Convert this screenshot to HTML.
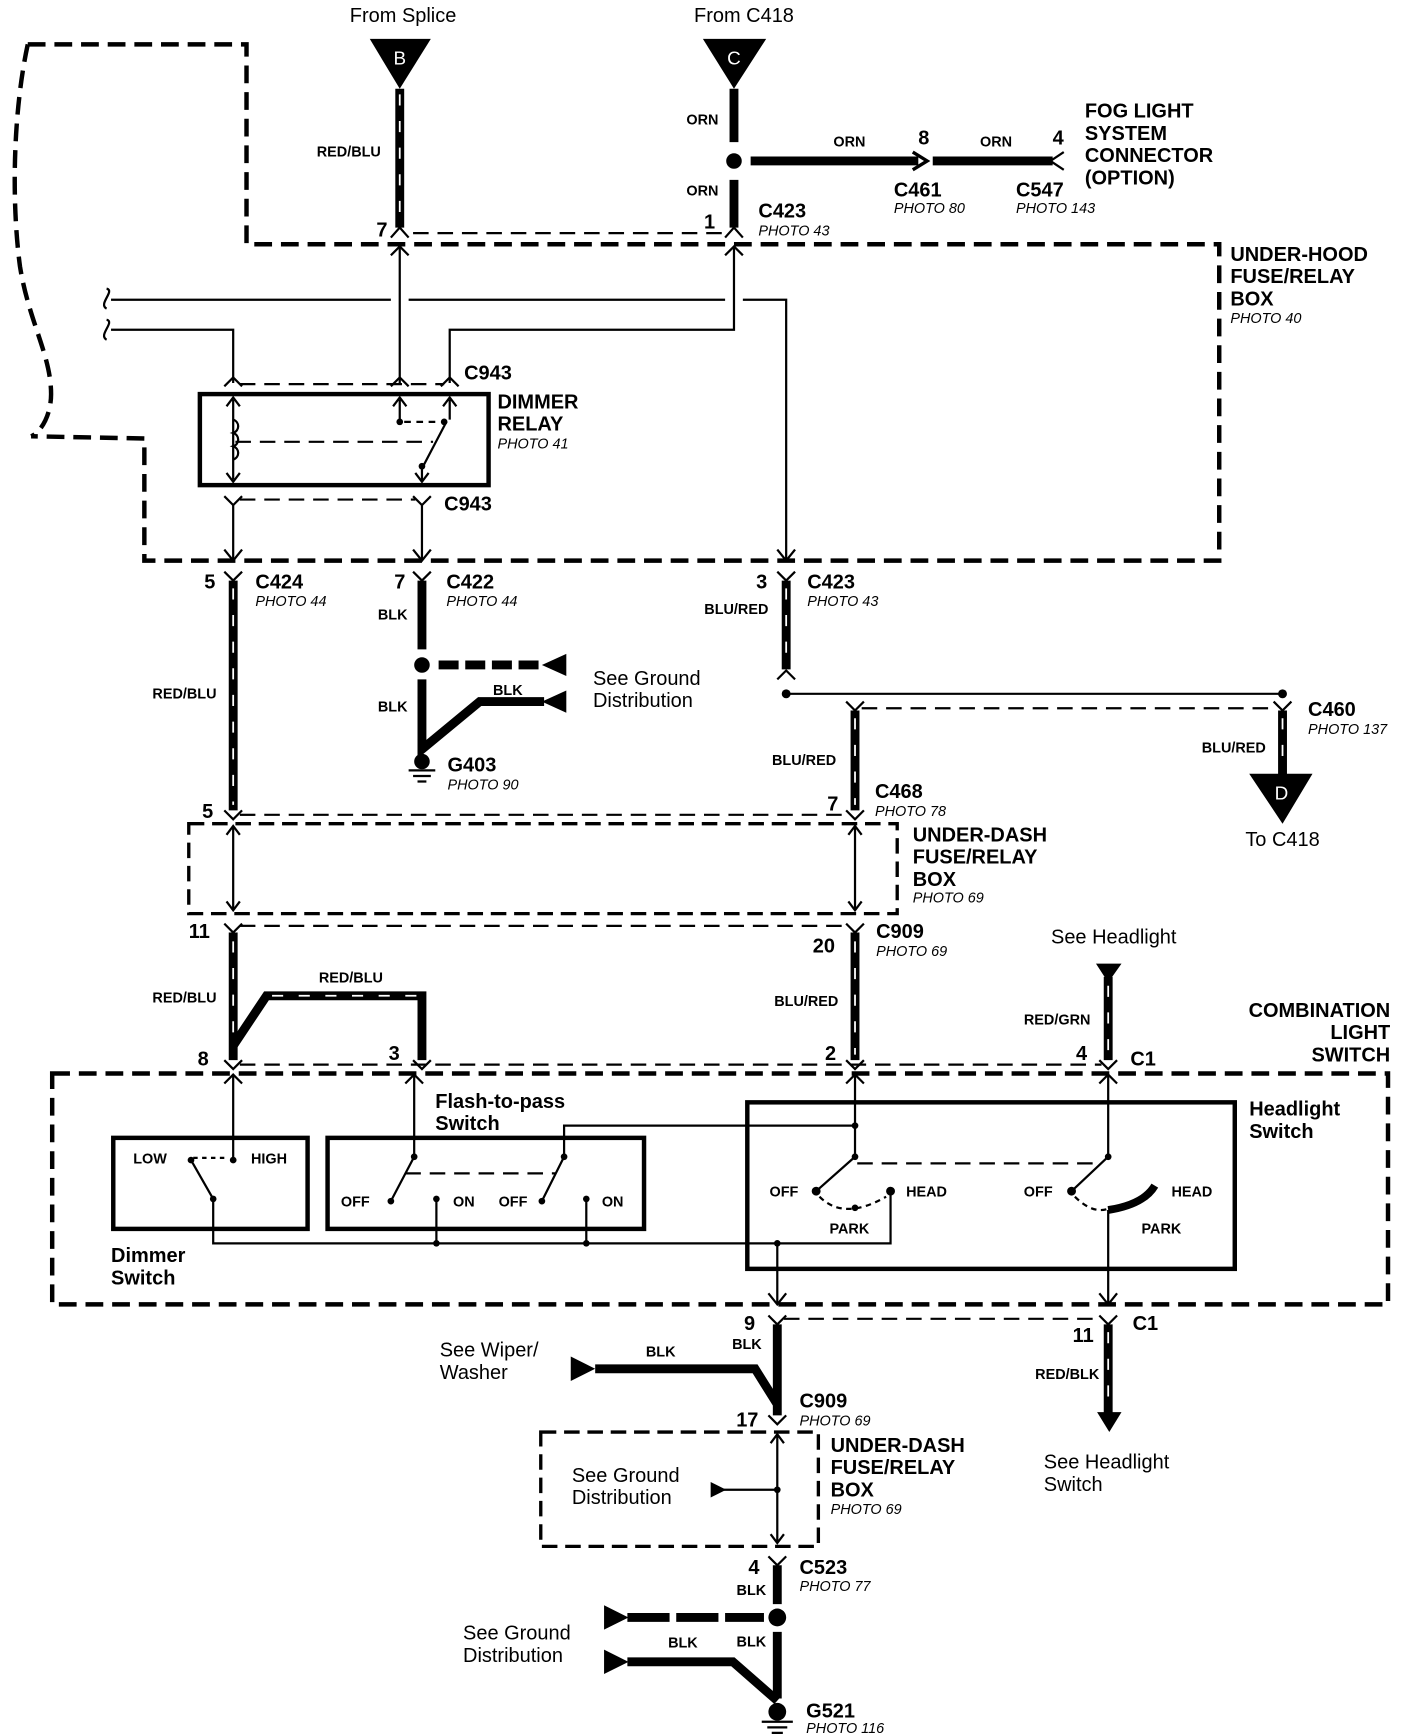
<!DOCTYPE html>
<html><head><meta charset="utf-8"><style>
html,body{margin:0;padding:0;background:#fff}
svg{display:block}
text{font-family:"Liberation Sans",Arial,sans-serif;fill:#000}
.b{font-weight:bold;font-size:18px}
.s{font-weight:bold;font-size:13px}
.p{font-style:italic;font-size:13px}
.n{font-size:18px}
.t{stroke:#000;stroke-width:2;fill:none}
.k{stroke:#000;stroke-width:8;fill:none}
.w{stroke:#fff;stroke-width:1.6;fill:none;stroke-dasharray:10 14}
.d{stroke:#000;stroke-width:4;fill:none;stroke-dasharray:16 8}
.dt{stroke:#000;stroke-width:2;fill:none;stroke-dasharray:14 8}
</style></head><body>
<svg width="1408" height="1734" viewBox="0 0 1268 1562" preserveAspectRatio="none" xmlns="http://www.w3.org/2000/svg">
<!-- Under-hood boundary -->
<path class="d" d="M25,40 L222,40 L222,220 L1098,220 L1098,505 L130,505 L130,395 L28,393"/>
<path class="d" d="M25,40 C12,100 10,180 18,240 C26,290 46,320 46,355 C46,375 36,390 28,393"/>
<!-- From Splice B -->
<text class="n" x="363" y="20" text-anchor="middle">From Splice</text>
<polygon points="333,35 388,35 360,80"/>
<text x="360" y="58" text-anchor="middle" style="font-size:17px;fill:#fff">B</text>
<line class="k" x1="360" y1="80" x2="360" y2="205"/><line class="w" x1="360" y1="85" x2="360" y2="200"/>
<text class="s" x="343" y="141" text-anchor="end">RED/BLU</text>
<!-- From C418 C -->
<text class="n" x="670" y="20" text-anchor="middle">From C418</text>
<polygon points="633,35 690,35 661,80"/>
<text x="661" y="58" text-anchor="middle" style="font-size:17px;fill:#fff">C</text>
<line class="k" x1="661" y1="80" x2="661" y2="205"/>
<line x1="661" y1="128" x2="661" y2="162" stroke="#fff" stroke-width="10"/>
<circle cx="661" cy="145" r="7"/>
<text class="s" x="647" y="112" text-anchor="end">ORN</text>
<text class="s" x="647" y="176" text-anchor="end">ORN</text>
<line class="k" x1="676" y1="145" x2="827" y2="145"/>
<path d="M822,137 L835,145 L822,153" stroke="#000" stroke-width="3" fill="none"/>
<line class="k" x1="840" y1="145" x2="948" y2="145"/>
<path d="M958,137 L946,145 L958,153" stroke="#000" stroke-width="2" fill="none"/>
<text class="s" x="765" y="132" text-anchor="middle">ORN</text>
<text class="s" x="897" y="132" text-anchor="middle">ORN</text>
<text class="b" x="832" y="130" text-anchor="middle">8</text>
<text class="b" x="953" y="130" text-anchor="middle">4</text>
<text class="b" x="805" y="177">C461</text><text class="p" x="805" y="192">PHOTO 80</text>
<text class="b" x="915" y="177">C547</text><text class="p" x="915" y="192">PHOTO 143</text>
<text class="b" x="977" y="106">FOG LIGHT</text><text class="b" x="977" y="126">SYSTEM</text>
<text class="b" x="977" y="146">CONNECTOR</text><text class="b" x="977" y="166">(OPTION)</text>
<!-- C423 top -->
<text class="b" x="339" y="213">7</text><text class="b" x="634" y="206">1</text>
<path class="t" d="M352,214 L360,205 L368,214 M653,214 L661,205 L669,214"/>
<line class="dt" x1="372" y1="210" x2="650" y2="210"/>
<text class="b" x="683" y="196">C423</text><text class="p" x="683" y="212">PHOTO 43</text>
<text class="b" x="1108" y="235">UNDER-HOOD</text><text class="b" x="1108" y="255">FUSE/RELAY</text>
<text class="b" x="1108" y="275">BOX</text><text class="p" x="1108" y="291">PHOTO 40</text>
<!-- thin wires -->
<path class="t" d="M352,230 L360,222 L368,230 M653,230 L661,222 L669,230"/>
<line class="t" x1="360" y1="222" x2="360" y2="345"/>
<path class="t" d="M661,222 L661,297 L405,297 L405,345"/>
<path class="t" d="M100,270 L352,270 M368,270 L653,270 M669,270 L708,270 L708,505"/>
<path class="t" d="M100,297 L210,297 L210,345"/>
<path class="t" d="M96,260 C104,262 88,274 96,278 M96,288 C104,290 88,302 96,306"/>
<!-- C943 top -->
<path class="t" d="M202,348 L210,340 L218,348 M352,348 L360,340 L368,348 M397,348 L405,340 L413,348"/>
<line class="dt" x1="216" y1="346" x2="400" y2="346"/>
<text class="b" x="418" y="342">C943</text>
<rect x="180" y="355" width="260" height="82" fill="none" stroke="#000" stroke-width="4"/>
<text class="b" x="448" y="368">DIMMER</text><text class="b" x="448" y="388">RELAY</text>
<text class="p" x="448" y="404">PHOTO 41</text>
<!-- relay internals -->
<path class="t" d="M210,360 L210,432 M204,366 L210,358 L216,366 M204,426 L210,434 L216,426"/>
<path d="M210,378 c6,2 6,10 0,12 c6,2 6,10 0,12 c6,2 6,10 0,12" stroke="#000" stroke-width="2" fill="none"/>
<path class="t" d="M360,360 L360,378 M354,366 L360,358 L366,366 M405,360 L405,378 M399,366 L405,358 L411,366"/>
<circle cx="360" cy="380" r="3"/><circle cx="400" cy="380" r="3"/>
<line class="dt" x1="364" y1="380" x2="396" y2="380" style="stroke-dasharray:6 5"/>
<line class="dt" x1="212" y1="398" x2="390" y2="398"/>
<path class="t" d="M402,380 L380,422 L380,434 M374,426 L380,434 L386,426"/><circle cx="380" cy="420" r="3"/>
<!-- C943 bottom -->
<path class="t" d="M202,447 L210,455 L218,447 M372,447 L380,455 L388,447"/>
<line class="dt" x1="216" y1="450" x2="374" y2="450"/>
<text class="b" x="400" y="460">C943</text>
<line class="t" x1="210" y1="455" x2="210" y2="505"/><line class="t" x1="380" y1="455" x2="380" y2="505"/>
<path class="t" d="M202,495 L210,505 L218,495 M372,495 L380,505 L388,495 M700,495 L708,505 L716,495"/>
<!-- connectors row 520 -->
<path class="t" d="M202,515 L210,523 L218,515 M372,515 L380,523 L388,515 M700,515 L708,523 L716,515"/>
<text class="b" x="184" y="530">5</text><text class="b" x="355" y="530">7</text><text class="b" x="681" y="530">3</text>
<text class="b" x="230" y="530">C424</text><text class="p" x="230" y="546">PHOTO 44</text>
<text class="b" x="402" y="530">C422</text><text class="p" x="402" y="546">PHOTO 44</text>
<text class="b" x="727" y="530">C423</text><text class="p" x="727" y="546">PHOTO 43</text>
<line class="k" x1="210" y1="523" x2="210" y2="730"/><line class="w" x1="210" y1="530" x2="210" y2="725"/>
<text class="s" x="195" y="629" text-anchor="end">RED/BLU</text>
<!-- C422 BLK -->
<line class="k" x1="380" y1="523" x2="380" y2="585"/>
<text class="s" x="367" y="558" text-anchor="end">BLK</text>
<circle cx="380" cy="599" r="7"/>
<line class="k" x1="395" y1="599" x2="488" y2="599" style="stroke-dasharray:18 6"/>
<polygon points="488,599 510,589 510,609"/>
<text class="n" x="534" y="617">See Ground</text><text class="n" x="534" y="637">Distribution</text>
<path class="k" d="M380,612 L380,675 L432,632 L490,632"/>
<polygon points="488,632 510,622 510,642"/>
<text class="s" x="444" y="626">BLK</text>
<text class="s" x="367" y="641" text-anchor="end">BLK</text>
<circle cx="380" cy="686" r="7"/>
<path class="t" d="M368,694 L392,694 M372,699 L388,699 M376,704 L384,704"/>
<text class="b" x="403" y="695">G403</text><text class="p" x="403" y="711">PHOTO 90</text>
<!-- BLU/RED C423 -->
<line class="k" x1="708" y1="523" x2="708" y2="603"/><line class="w" x1="708" y1="530" x2="708" y2="598"/>
<text class="s" x="692" y="553" text-anchor="end">BLU/RED</text>
<path class="t" d="M700,612 L708,604 L716,612"/>
<line class="t" x1="708" y1="625" x2="1155" y2="625"/>
<circle cx="708" cy="625" r="4"/><circle cx="1155" cy="625" r="4"/>
<line class="dt" x1="776" y1="638" x2="1150" y2="638"/>
<path class="t" d="M762,632 L770,640 L778,632 M1147,632 L1155,640 L1163,632"/>
<text class="b" x="1178" y="645">C460</text><text class="p" x="1178" y="661">PHOTO 137</text>
<line class="k" x1="1155" y1="640" x2="1155" y2="700"/><line class="w" x1="1155" y1="647" x2="1155" y2="695"/>
<text class="s" x="1140" y="678" text-anchor="end">BLU/RED</text>
<polygon points="1125,697 1182,697 1155,742"/>
<text x="1154" y="720" text-anchor="middle" style="font-size:17px;fill:#fff">D</text>
<text class="n" x="1155" y="762" text-anchor="middle">To C418</text>
<line class="k" x1="770" y1="640" x2="770" y2="730"/><line class="w" x1="770" y1="647" x2="770" y2="725"/>
<text class="s" x="753" y="689" text-anchor="end">BLU/RED</text>
<text class="b" x="788" y="719">C468</text><text class="p" x="788" y="735">PHOTO 78</text>
<text class="b" x="182" y="737">5</text><text class="b" x="745" y="730">7</text>
<path class="t" d="M202,730 L210,738 L218,730 M762,730 L770,738 L778,730"/>
<line class="dt" x1="216" y1="734" x2="764" y2="734"/>
<!-- Under-dash box 1 -->
<rect x="170" y="742" width="638" height="81" fill="none" stroke="#000" stroke-width="3" stroke-dasharray="14 7"/>
<path class="t" d="M210,744 L210,820 M204,752 L210,744 L216,752 M204,812 L210,820 L216,812 M770,744 L770,820 M764,752 L770,744 L776,752 M764,812 L770,820 L776,812"/>
<text class="b" x="822" y="758">UNDER-DASH</text><text class="b" x="822" y="778">FUSE/RELAY</text>
<text class="b" x="822" y="798">BOX</text><text class="p" x="822" y="813">PHOTO 69</text>
<!-- row 835 -->
<path class="t" d="M202,832 L210,840 L218,832 M762,832 L770,840 L778,832"/>
<line class="dt" x1="216" y1="834" x2="764" y2="834"/>
<text class="b" x="170" y="845">11</text><text class="b" x="732" y="858">20</text>
<text class="b" x="789" y="845">C909</text><text class="p" x="789" y="861">PHOTO 69</text>
<line class="k" x1="210" y1="840" x2="210" y2="955"/><line class="w" x1="210" y1="848" x2="210" y2="940"/>
<path class="k" d="M210,942 L240,897 L380,897 L380,955"/>
<path class="w" d="M245,897 L378,897"/>
<text class="s" x="195" y="903" text-anchor="end">RED/BLU</text>
<text class="s" x="316" y="885" text-anchor="middle">RED/BLU</text>
<line class="k" x1="770" y1="840" x2="770" y2="955"/><line class="w" x1="770" y1="848" x2="770" y2="950"/>
<text class="s" x="755" y="906" text-anchor="end">BLU/RED</text>
<text class="n" x="1003" y="850" text-anchor="middle">See Headlight</text>
<polygon points="987,868 1010,868 998,885"/>
<line class="k" x1="998" y1="880" x2="998" y2="955"/><line class="w" x1="998" y1="888" x2="998" y2="950"/>
<text class="s" x="982" y="923" text-anchor="end">RED/GRN</text>
<text class="b" x="1252" y="916" text-anchor="end">COMBINATION</text>
<text class="b" x="1252" y="936" text-anchor="end">LIGHT</text>
<text class="b" x="1252" y="956" text-anchor="end">SWITCH</text>
<text class="b" x="178" y="960">8</text><text class="b" x="350" y="955">3</text><text class="b" x="743" y="955">2</text><text class="b" x="969" y="955">4</text>
<text class="b" x="1018" y="960">C1</text>
<path class="t" d="M202,955 L210,963 L218,955 M372,955 L380,963 L388,955 M762,955 L770,963 L778,955 M990,955 L998,963 L1006,955"/>
<line class="dt" x1="216" y1="959" x2="992" y2="959"/>
<!-- Combination box -->
<rect x="47" y="967" width="1203" height="208" fill="none" stroke="#000" stroke-width="4" stroke-dasharray="16 8"/>
<path class="t" d="M202,976 L210,968 L218,976 M365,976 L373,968 L381,976 M762,976 L770,968 L778,976 M990,976 L998,968 L1006,976"/>
<text class="b" x="392" y="998">Flash-to-pass</text><text class="b" x="392" y="1018">Switch</text>
<text class="b" x="1125" y="1005">Headlight</text><text class="b" x="1125" y="1025">Switch</text>
<text class="b" x="100" y="1137">Dimmer</text><text class="b" x="100" y="1157">Switch</text>
<rect x="102" y="1025" width="175" height="82" fill="none" stroke="#000" stroke-width="4"/>
<rect x="295" y="1025" width="285" height="82" fill="none" stroke="#000" stroke-width="4"/>
<rect x="673" y="993" width="439" height="150" fill="none" stroke="#000" stroke-width="4"/>
<!-- dimmer switch -->
<line class="t" x1="210" y1="968" x2="210" y2="1045"/>
<circle cx="210" cy="1045" r="3"/><circle cx="172" cy="1045" r="3"/><circle cx="192" cy="1080" r="3"/>
<path class="t" d="M172,1045 L192,1080 L192,1120 L802,1120 L802,1073"/>
<path d="M174,1043 L206,1043" stroke="#000" stroke-width="2" stroke-dasharray="4 4"/>
<text class="s" x="120" y="1048">LOW</text><text class="s" x="226" y="1048">HIGH</text>
<!-- flash switches -->
<line class="t" x1="373" y1="968" x2="373" y2="1042"/>
<path class="t" d="M373,1042 L352,1082 M393,1080 L393,1120 M528,1080 L528,1120 M508,1042 L508,1014 L770,1014 M508,1042 L488,1082"/>
<circle cx="373" cy="1042" r="3"/><circle cx="352" cy="1082" r="3"/><circle cx="393" cy="1080" r="3"/>
<circle cx="508" cy="1042" r="3"/><circle cx="488" cy="1082" r="3"/><circle cx="528" cy="1080" r="3"/>
<circle cx="393" cy="1120" r="3"/><circle cx="528" cy="1120" r="3"/><circle cx="700" cy="1120" r="3"/>
<line class="dt" x1="365" y1="1057" x2="500" y2="1057"/>
<text class="s" x="307" y="1087">OFF</text><text class="s" x="408" y="1087">ON</text>
<text class="s" x="449" y="1087">OFF</text><text class="s" x="542" y="1087">ON</text>
<!-- headlight switch -->
<line class="t" x1="770" y1="968" x2="770" y2="1042"/>
<circle cx="770" cy="1014" r="3"/><circle cx="770" cy="1042" r="3"/>
<path class="t" d="M770,1042 L735,1073"/><circle cx="735" cy="1073" r="4"/><circle cx="802" cy="1073" r="4"/>
<path d="M738,1078 Q760,1100 798,1078" stroke="#000" stroke-width="2" fill="none" stroke-dasharray="5 4"/>
<circle cx="770" cy="1088" r="3"/>
<line class="dt" x1="772" y1="1048" x2="990" y2="1048"/>
<line class="t" x1="998" y1="968" x2="998" y2="1042"/><circle cx="998" cy="1042" r="3"/>
<path class="t" d="M998,1042 L965,1073"/><circle cx="965" cy="1073" r="4"/>
<path d="M968,1078 Q985,1095 1000,1088" stroke="#000" stroke-width="2" fill="none" stroke-dasharray="5 4"/>
<path d="M998,1090 Q1030,1085 1040,1068" stroke="#000" stroke-width="7" fill="none"/>
<text class="s" x="693" y="1078">OFF</text><text class="s" x="816" y="1078">HEAD</text>
<text class="s" x="922" y="1078">OFF</text><text class="s" x="1055" y="1078">HEAD</text>
<text class="s" x="747" y="1111">PARK</text><text class="s" x="1028" y="1111">PARK</text>
<line class="t" x1="700" y1="1120" x2="700" y2="1175"/><line class="t" x1="998" y1="1090" x2="998" y2="1175"/>
<path class="t" d="M692,1165 L700,1175 L708,1165 M990,1165 L998,1175 L1006,1165"/>
<!-- row 1190 -->
<path class="t" d="M692,1185 L700,1193 L708,1185 M990,1185 L998,1193 L1006,1185"/>
<line class="dt" x1="706" y1="1188" x2="992" y2="1188"/>
<text class="b" x="670" y="1198">9</text><text class="b" x="966" y="1209">11</text><text class="b" x="1020" y="1198">C1</text>
<text class="s" x="686" y="1215" text-anchor="end">BLK</text>
<path class="k" d="M700,1193 L700,1275 M536,1233 L680,1233 L700,1265"/>
<polygon points="514,1222 536,1233 514,1244"/>
<text class="s" x="595" y="1222" text-anchor="middle">BLK</text>
<text class="n" x="396" y="1222">See Wiper/</text><text class="n" x="396" y="1242">Washer</text>
<text class="b" x="720" y="1268">C909</text><text class="p" x="720" y="1284">PHOTO 69</text>
<text class="b" x="663" y="1285">17</text>
<path class="t" d="M692,1275 L700,1283 L708,1275"/>
<line class="k" x1="998" y1="1193" x2="998" y2="1275"/><line class="w" x1="998" y1="1200" x2="998" y2="1270"/>
<polygon points="988,1272 1010,1272 999,1290"/>
<text class="s" x="990" y="1242" text-anchor="end">RED/BLK</text>
<text class="n" x="940" y="1323">See Headlight</text><text class="n" x="940" y="1343">Switch</text>
<!-- under-dash box 2 -->
<rect x="487" y="1290" width="250" height="103" fill="none" stroke="#000" stroke-width="3" stroke-dasharray="14 7"/>
<path class="t" d="M700,1292 L700,1390 M694,1300 L700,1292 L706,1300 M694,1382 L700,1390 L706,1382 M648,1342 L700,1342"/>
<circle cx="700" cy="1342" r="3"/><polygon points="640,1335 654,1342 640,1349"/>
<text class="n" x="515" y="1335">See Ground</text><text class="n" x="515" y="1355">Distribution</text>
<text class="b" x="748" y="1308">UNDER-DASH</text><text class="b" x="748" y="1328">FUSE/RELAY</text>
<text class="b" x="748" y="1348">BOX</text><text class="p" x="748" y="1364">PHOTO 69</text>
<!-- C523 -->
<path class="t" d="M692,1402 L700,1410 L708,1402"/>
<text class="b" x="674" y="1418">4</text>
<text class="b" x="720" y="1418">C523</text><text class="p" x="720" y="1433">PHOTO 77</text>
<line class="k" x1="700" y1="1410" x2="700" y2="1445"/>
<text class="s" x="690" y="1437" text-anchor="end">BLK</text>
<circle cx="700" cy="1457" r="8"/>
<line class="k" x1="565" y1="1457" x2="688" y2="1457" style="stroke-dasharray:38 6"/>
<polygon points="544,1446 566,1457 544,1468"/>
<line class="k" x1="700" y1="1470" x2="700" y2="1530"/>
<path class="k" d="M565,1497 L660,1497 L700,1532"/>
<polygon points="544,1486 566,1497 544,1508"/>
<text class="s" x="615" y="1484" text-anchor="middle">BLK</text>
<text class="s" x="690" y="1483" text-anchor="end">BLK</text>
<text class="n" x="417" y="1477">See Ground</text><text class="n" x="417" y="1497">Distribution</text>
<circle cx="700" cy="1542" r="8"/>
<path class="t" d="M686,1551 L714,1551 M691,1556 L709,1556 M695,1561 L705,1561"/>
<text class="b" x="726" y="1547">G521</text><text class="p" x="726" y="1561">PHOTO 116</text>
</svg>
</body></html>
